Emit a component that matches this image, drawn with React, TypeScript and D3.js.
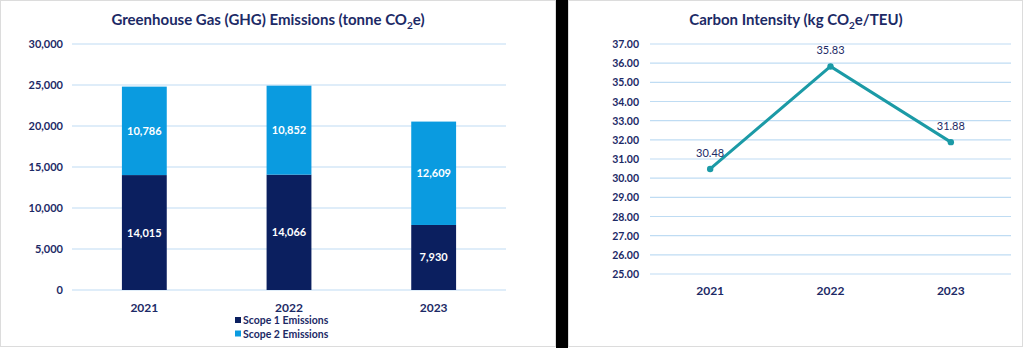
import React from "react";
import * as d3 from "d3";

const years = ["2021", "2022", "2023"];
const scope1 = [14015, 14066, 7930];
const scope2 = [10786, 10852, 12609];
const ghgTicks = [0, 5000, 10000, 15000, 20000, 25000, 30000];
const seriesNames = ["Scope 1 Emissions", "Scope 2 Emissions"];
const intensity = [30.48, 35.83, 31.88];
const intensityTicks = [25, 26, 27, 28, 29, 30, 31, 32, 33, 34, 35, 36, 37];

const NAVY = "#0b1f5f";
const LIGHT = "#0a9be0";
const TEXT = "#1c2a66";
const GRID = "#bfdcf3";
const TEAL = "#1b9aa6";
const FONT = "Lato, 'Open Sans', sans-serif";

export default function App() {
  // left chart
  const x1 = d3.scaleBand().domain(years).range([72, 506]).paddingInner(0.69).paddingOuter(0.345);
  const y1 = d3.scaleLinear().domain([0, 30000]).range([290, 44]);
  const fmt = d3.format(",");
  const stack = d3.stack<any>().keys(["s1", "s2"])(
    years.map((yr, i) => ({ yr, s1: scope1[i], s2: scope2[i] }))
  );
  const colors = [NAVY, LIGHT];

  // right chart
  const x2 = d3.scalePoint().domain(years).range([650, 1011]).padding(0.5);
  const y2 = d3.scaleLinear().domain([25, 37]).range([274, 44]);
  const line = d3
    .line<number>()
    .x((_, i) => x2(years[i])!)
    .y((d) => y2(d));

  return (
    <svg
      width={1024}
      height={348}
      style={{ position: "absolute", left: 0, top: 0, fontFamily: FONT }}
    >
      <rect x={0} y={0} width={1024} height={348} fill="#ffffff" />
      <rect x={0.5} y={0.5} width={555} height={346} fill="#ffffff" stroke="#dcdcdc" />
      <rect x={556} y={0} width={12} height={348} fill="#000000" />
      <rect x={568.5} y={0.5} width={454} height={346} fill="#ffffff" stroke="#dcdcdc" />

      {/* Left chart */}
      <text x={268} y={25} textAnchor="middle" fontSize={15} fontWeight={700} fill={TEXT}>
        Greenhouse Gas (GHG) Emissions (tonne CO
        <tspan fontSize={10} dy={4}>2</tspan>
        <tspan dy={-4}>e)</tspan>
      </text>
      {ghgTicks.map((t) => (
        <g key={t}>
          <line x1={72} x2={506} y1={y1(t)} y2={y1(t)} stroke={GRID} strokeWidth={1.2} />
          <text x={63} y={y1(t) + 4} textAnchor="end" fontSize={11} fontWeight={700} fill={TEXT}>
            {fmt(t)}
          </text>
        </g>
      ))}
      {stack.map((s, si) =>
        s.map((d, i) => (
          <g key={si + "-" + i}>
            <rect
              x={x1(years[i])!}
              width={x1.bandwidth()}
              y={y1(d[1])}
              height={y1(d[0]) - y1(d[1])}
              fill={colors[si]}
            />
            <text
              x={x1(years[i])! + x1.bandwidth() / 2}
              y={(y1(d[0]) + y1(d[1])) / 2 + 4}
              textAnchor="middle"
              fontSize={11}
              fontWeight={700}
              fill="#ffffff"
            >
              {fmt(d[1] - d[0])}
            </text>
          </g>
        ))
      )}
      {years.map((yr) => (
        <text
          key={yr}
          x={x1(yr)! + x1.bandwidth() / 2}
          y={312}
          textAnchor="middle"
          fontSize={12}
          fontWeight={700}
          fill={TEXT}
        >
          {yr}
        </text>
      ))}
      {seriesNames.map((n, i) => (
        <g key={n}>
          <rect x={235} y={317 + i * 13.5} width={6} height={6} fill={colors[i]} />
          <text x={243} y={324 + i * 13.5} fontSize={10.5} fontWeight={700} fill={TEXT}>
            {n}
          </text>
        </g>
      ))}

      {/* Right chart */}
      <text x={796} y={25} textAnchor="middle" fontSize={15} fontWeight={700} fill={TEXT}>
        Carbon Intensity (kg CO
        <tspan fontSize={10} dy={4}>2</tspan>
        <tspan dy={-4}>e/TEU)</tspan>
      </text>
      {intensityTicks.map((t) => (
        <g key={t}>
          <line x1={650} x2={1011} y1={y2(t)} y2={y2(t)} stroke={GRID} strokeWidth={1.2} />
          <text x={639} y={y2(t) + 4} textAnchor="end" fontSize={10.5} fontWeight={700} fill={TEXT}>
            {t.toFixed(2)}
          </text>
        </g>
      ))}
      <path d={line(intensity)!} fill="none" stroke={TEAL} strokeWidth={3} />
      {intensity.map((v, i) => (
        <g key={i}>
          <circle cx={x2(years[i])!} cy={y2(v)} r={3.2} fill={TEAL} />
          <text
            x={x2(years[i])!}
            y={y2(v) - 12}
            textAnchor="middle"
            fontSize={11}
            fill={TEXT}
          >
            {v.toFixed(2)}
          </text>
        </g>
      ))}
      {years.map((yr) => (
        <text
          key={yr}
          x={x2(yr)!}
          y={295}
          textAnchor="middle"
          fontSize={12}
          fontWeight={700}
          fill={TEXT}
        >
          {yr}
        </text>
      ))}
    </svg>
  );
}
